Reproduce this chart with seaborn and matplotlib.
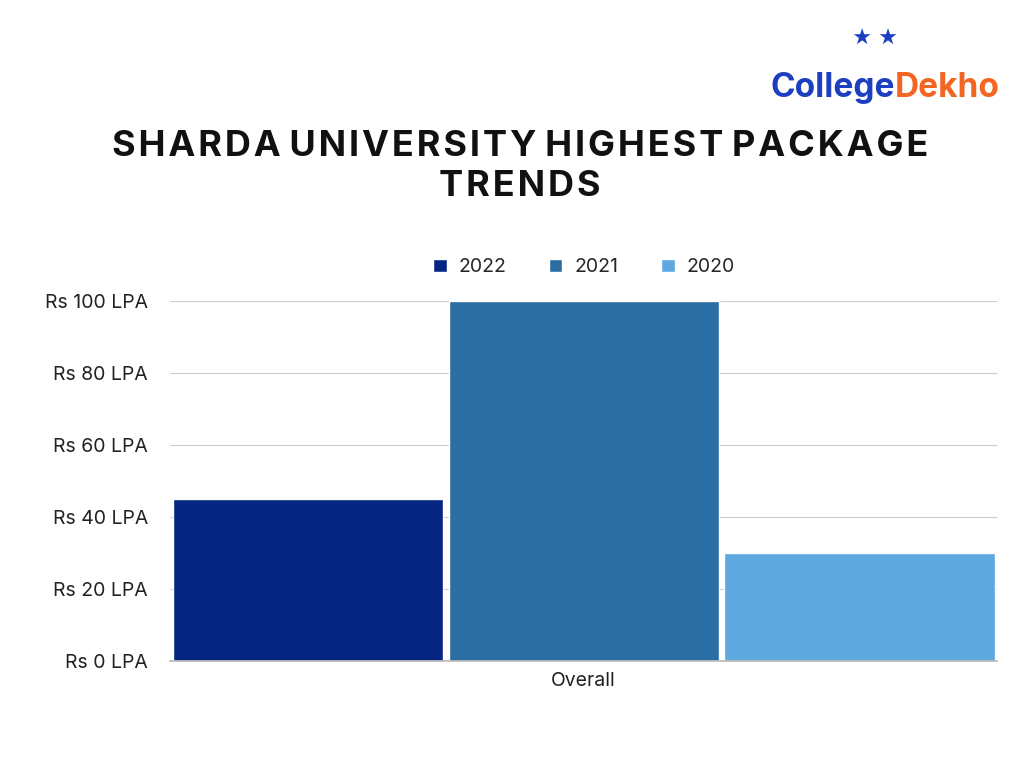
import matplotlib
matplotlib.use("Agg")
import matplotlib.pyplot as plt
import seaborn as sns
import pandas as pd

categories = ["Overall"]
years = ["2022", "2021", "2020"]
packages = [45, 100, 30]
colors = ["#062583", "#2A6EA4", "#5EA8E0"]
tick_vals = [0, 20, 40, 60, 80, 100]
tick_labels = [f"Rs {v} LPA" for v in tick_vals]

df = pd.DataFrame({"cat": categories * 3, "year": years, "value": packages})

sns.set_theme(style="white")
plt.rcParams["font.family"] = ["Inter", "DejaVu Sans"]

fig = plt.figure(figsize=(10.24, 7.68), dpi=100)
ax = fig.add_axes([0.166, 0.139, 0.808, 0.469])
sns.barplot(data=df, x="cat", y="value", hue="year", hue_order=years,
            palette=colors, width=1.0, gap=0.02, saturation=1, ax=ax, legend=True)

ax.set_xlim(-0.5, 0.5)
ax.set_ylim(0, 100)
ax.set_yticks(tick_vals)
ax.set_yticklabels(tick_labels, fontsize=14, color="#222")
ax.tick_params(axis="x", labelsize=14, colors="#222", length=0, pad=8)
ax.tick_params(axis="y", length=0, pad=16)
ax.yaxis.grid(True, color="#cccccc", linewidth=0.8)
ax.set_axisbelow(True)
ax.set_xlabel("")
ax.set_ylabel("")
for s in ["top", "right", "left"]:
    ax.spines[s].set_visible(False)
ax.spines["bottom"].set_color("#bbbbbb")

ax.legend(loc="lower center", bbox_to_anchor=(0.5, 1.02), ncol=3, frameon=False,
          fontsize=14, handlelength=0.7, handleheight=0.7, columnspacing=2.2,
          handletextpad=0.6)

fig.text(0.508, 0.783, "S H A R D A   U N I V E R S I T Y   H I G H E S T   P A C K A G E\nT R E N D S".replace(" ", "\u200a"),
         ha="center", va="center", fontsize=26, fontweight="bold", color="#111", linespacing=1.25)

t1 = fig.text(0.752, 0.885, "College", ha="left", va="center", fontsize=24,
              fontweight="bold", color="#1b3fc0")
fig.canvas.draw()
bb = t1.get_window_extent().transformed(fig.transFigure.inverted())
fig.text(bb.x1, 0.885, "Dekho", ha="left", va="center", fontsize=24,
         fontweight="bold", color="#f26522")
fig.text(0.855, 0.948, "★ ★", ha="center", va="center", fontsize=14, color="#1b3fc0")

fig.savefig("out.png", dpi=100)
